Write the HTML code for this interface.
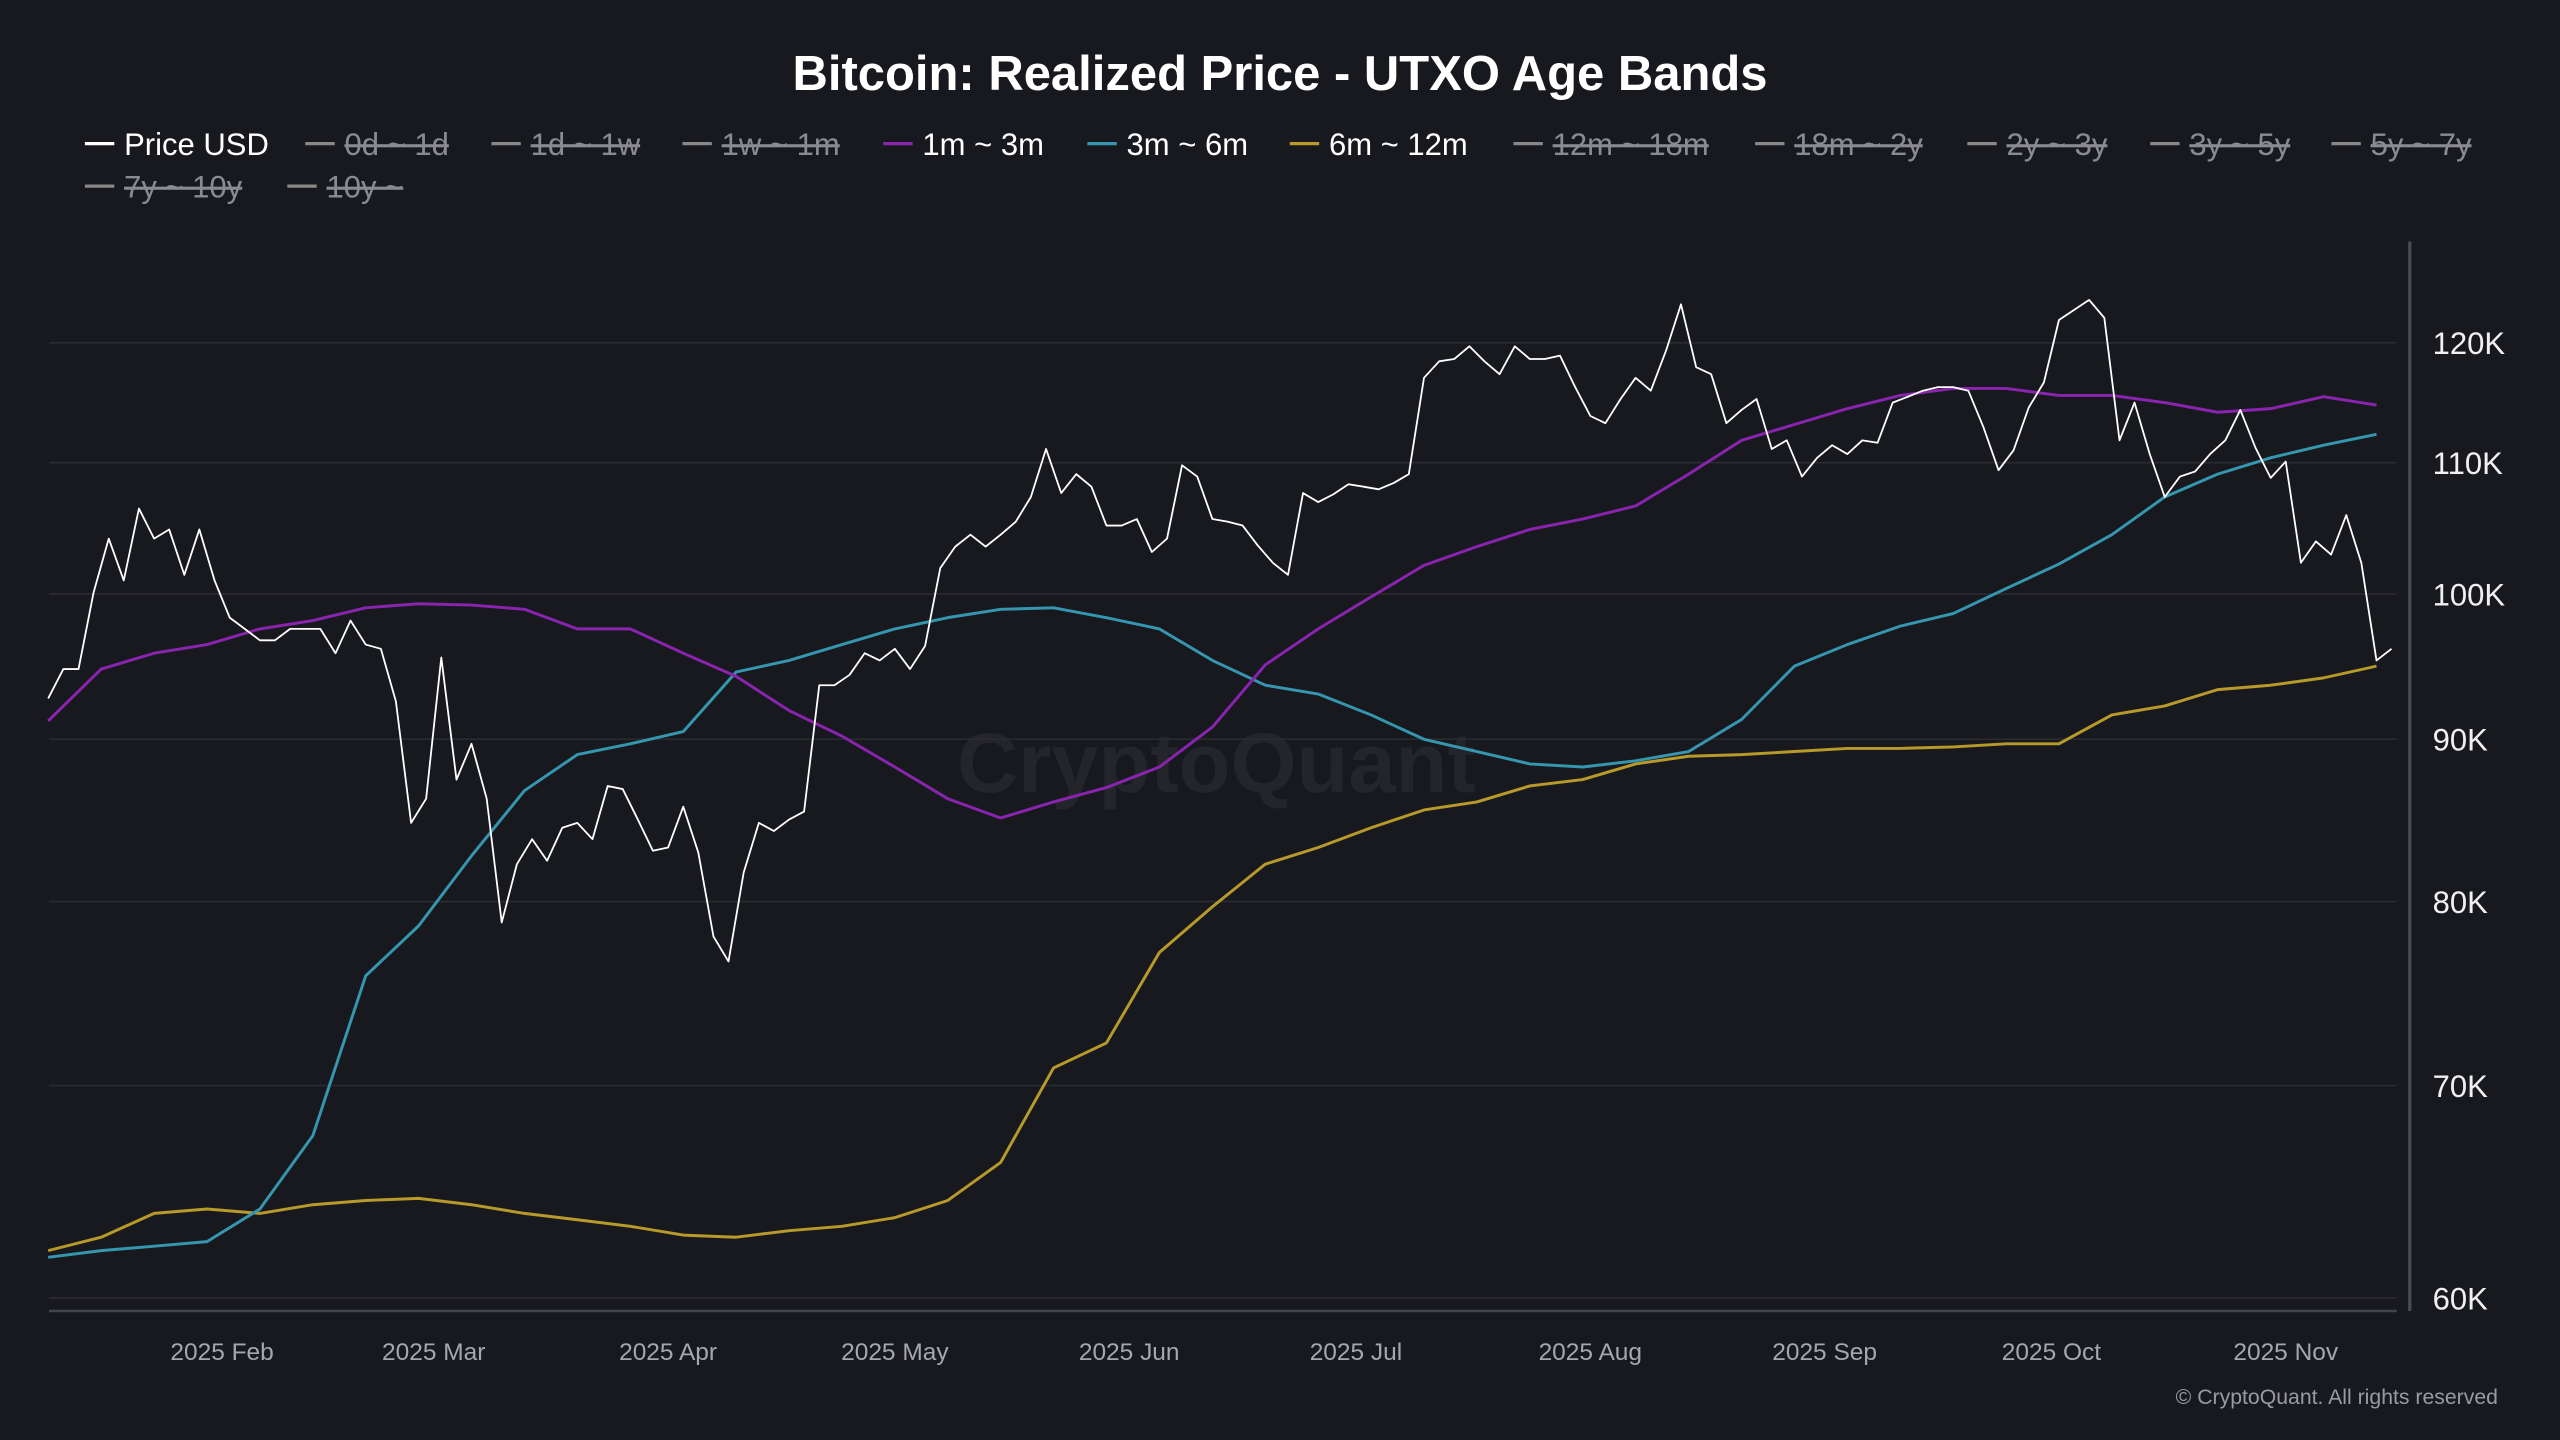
<!DOCTYPE html>
<html><head><meta charset="utf-8"><style>
html,body{margin:0;padding:0;background:#18191e;}
svg{display:block;font-family:"Liberation Sans",sans-serif;}
</style></head><body>
<svg id="chart" width="2560" height="1440" viewBox="0 0 1568 882" xmlns="http://www.w3.org/2000/svg">
<rect width="1568" height="882" fill="#18191e"/>
<text x="784" y="55" text-anchor="middle" fill="#fff" font-size="30" font-weight="bold">Bitcoin: Realized Price - UTXO Age Bands</text>
<text x="745" y="485" text-anchor="middle" fill="#24252b" font-size="52" font-weight="bold">CryptoQuant</text>
<g id="grid"></g><g id="yaxis"></g><g id="xaxis"></g><g id="series"></g><g id="legend"></g>
<line x1="30" y1="803" x2="1468" y2="803" stroke="#44464d" stroke-width="1.5"/>
<line x1="1476" y1="148" x2="1476" y2="803" stroke="#4a4c53" stroke-width="2"/>
<text x="1530" y="860" text-anchor="end" fill="#9a9ba1" font-size="13">© CryptoQuant. All rights reserved</text>
</svg>
<script>
const yTicks = [60,70,80,90,100,110,120];
const yTickLabels = ["60K","70K","80K","90K","100K","110K","120K"];
const monthLabels = ["2025 Feb","2025 Mar","2025 Apr","2025 May","2025 Jun","2025 Jul","2025 Aug","2025 Sep","2025 Oct","2025 Nov"];
const monthDays = [31,59,90,120,151,181,212,243,273,304];
const priceStartDay = 8, priceStep = 2;
const priceUSD = [92.7,94.7,94.7,100.1,104.1,101,106.4,104.1,104.8,101.4,104.8,101,98.3,97.5,96.7,96.7,97.5,97.5,97.5,95.8,98.1,96.4,96.1,92.5,84.7,86.2,95.5,87.4,89.7,86.2,78.8,82.2,83.7,82.4,84.4,84.7,83.7,87,86.8,84.9,83,83.2,85.7,82.9,78,76.6,81.7,84.7,84.2,84.9,85.4,93.6,93.6,94.3,95.8,95.3,96.1,94.7,96.3,101.9,103.5,104.4,103.5,104.4,105.4,107.3,111.1,107.6,109.1,108.1,105.1,105.1,105.6,103.1,104.1,109.8,108.9,105.6,105.4,105.1,103.6,102.3,101.4,107.6,106.9,107.5,108.3,108.1,107.9,108.4,109.1,117,118.4,118.6,119.7,118.4,117.3,119.7,118.6,118.6,118.9,116.2,113.8,113.2,115.2,117,115.9,119.3,123.4,117.9,117.3,113.2,114.3,115.2,111.1,111.8,108.9,110.4,111.4,110.7,111.8,111.6,114.9,115.4,115.9,116.2,116.2,115.9,112.9,109.4,111,114.5,116.6,122,122.9,123.8,122.2,111.8,114.9,110.7,107.3,108.9,109.3,110.7,111.8,114.3,111.2,108.8,110.1,102.3,103.9,102.9,105.9,102.3,95.3,96.1];
const bandStartDay = 8, bandStep = 7;
const band1m3m = [91.2,94.7,95.8,96.4,97.5,98.1,99,99.3,99.2,98.9,97.5,97.5,95.8,94.2,91.9,90.2,88.2,86.2,85,86,86.9,88.2,90.8,95,97.5,99.8,102.1,103.5,104.8,105.6,106.6,109.1,111.8,113.1,114.4,115.5,116.1,116.1,115.5,115.5,114.9,114.1,114.4,115.4,114.7];
const band3m6m = [61.8,62.1,62.3,62.5,64,67.5,75.8,78.6,82.7,86.7,89,89.7,90.5,94.5,95.3,96.4,97.5,98.3,98.9,99,98.3,97.5,95.3,93.6,93,91.6,90,89.2,88.4,88.2,88.6,89.2,91.3,94.9,96.4,97.7,98.6,100.4,102.2,104.4,107.3,109.1,110.4,111.4,112.3];
const band6m12m = [62.1,62.7,63.8,64,63.8,64.2,64.4,64.5,64.2,63.8,63.5,63.2,62.8,62.7,63,63.2,63.6,64.4,66.2,70.9,72.2,77.1,79.7,82.2,83.2,84.4,85.5,86,87,87.4,88.4,88.9,89,89.2,89.4,89.4,89.5,89.7,89.7,91.6,92.2,93.3,93.6,94.1,94.9];
const legendNames = ["Price USD","0d ~ 1d","1d ~ 1w","1w ~ 1m","1m ~ 3m","3m ~ 6m","6m ~ 12m","12m ~ 18m","18m ~ 2y","2y ~ 3y","3y ~ 5y","5y ~ 7y","7y ~ 10y","10y ~"];

const NS="http://www.w3.org/2000/svg";
function xS(d){return -7.5+4.63*d;}
function yS(v){return 795-844*Math.log(v/60);}
function mk(tag,attrs,parent){const e=document.createElementNS(NS,tag);for(const k in attrs)e.setAttribute(k,attrs[k]);parent.appendChild(e);return e;}
const grid=document.getElementById('grid'),ya=document.getElementById('yaxis'),xa=document.getElementById('xaxis'),ser=document.getElementById('series'),leg=document.getElementById('legend');
yTicks.forEach((v,i)=>{
  const l=mk('line',{x1:30,x2:1468,y1:yS(v),y2:yS(v),stroke:'#2a2b31','stroke-width':1},grid);
  
  
  const t=mk('text',{x:1490,y:yS(v)+7,fill:'#f0f0f0','font-size':19},ya);
  t.textContent=yTickLabels[i];
  
  
});
monthLabels.forEach((m,i)=>{
  const t=mk('text',{x:xS(monthDays[i]),y:833,fill:'#a6a7ad','font-size':15,'text-anchor':'middle'},xa);
  t.textContent=m;
  
  
});
function line(vals,start,step,color,w,name){
  const pts=vals.map((v,i)=>xS(start+i*step).toFixed(1)+','+yS(v).toFixed(1)).join(' ');
  const p=mk('polyline',{points:pts,fill:'none',stroke:color,'stroke-width':w,'stroke-linejoin':'round'},ser);
  
  
}
line(band6m12m,bandStartDay,bandStep,'#b89a2a',1.8,'series-6m-12m');
line(band3m6m,bandStartDay,bandStep,'#3596b0',1.8,'series-3m-6m');
line(band1m3m,bandStartDay,bandStep,'#8a24b0',1.8,'series-1m-3m');
line(priceUSD,priceStartDay,priceStep,'#ffffff',1.1,'series-price-usd');
const lx=[52,187,301,418,541,666,790,927,1075,1205,1317,1428,52,176];
const lcol=['#fff','#888','#888','#888','#8a24b0','#3596b0','#b89a2a','#888','#888','#888','#888','#888','#888','#888'];
const active=[true,false,false,false,true,true,true,false,false,false,false,false,false,false];
legendNames.forEach((n,i)=>{
  const y=i<12?88:114;
  const g=mk('g',{},leg);
  
  
  mk('line',{x1:lx[i],x2:lx[i]+18,y1:y,y2:y,stroke:lcol[i],'stroke-width':2},g);
  const t=mk('text',{x:lx[i]+24,y:y+7,fill:active[i]?'#fff':'#8a8b90','font-size':19,'text-decoration':active[i]?'none':'line-through'},g);
  t.textContent=n;
});
</script>
</body></html>
